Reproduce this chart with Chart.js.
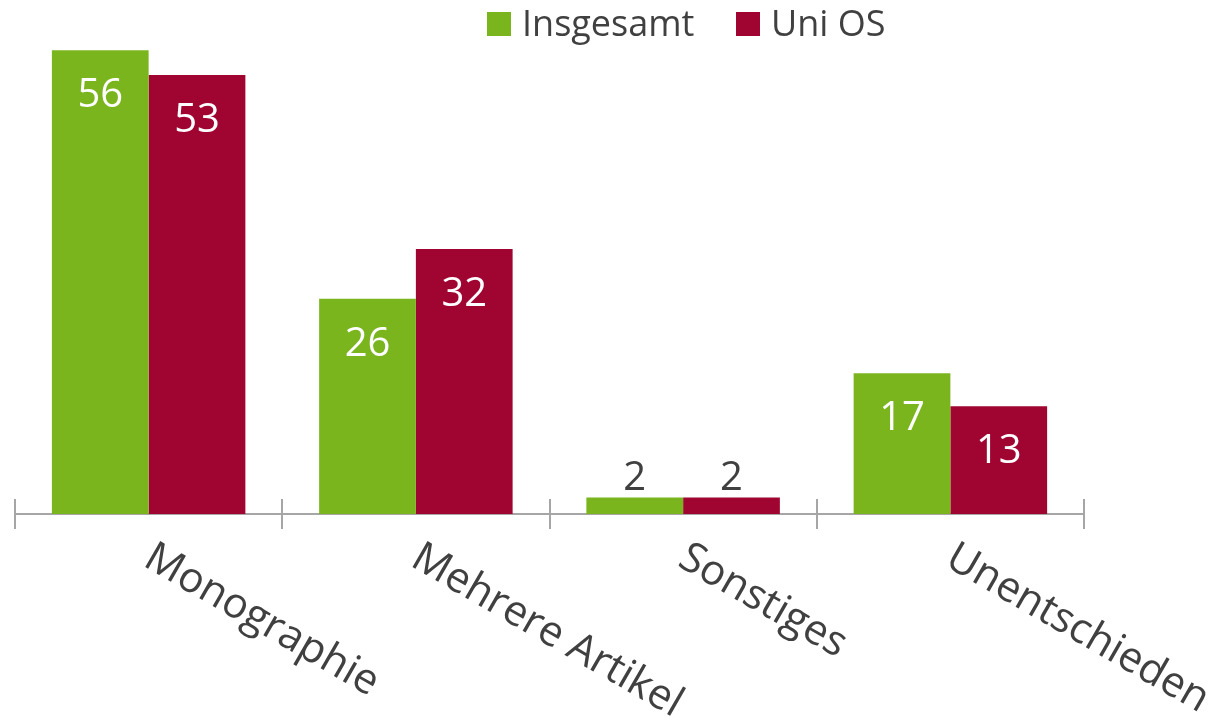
<!DOCTYPE html>
<html>
<head>
<meta charset="utf-8">
<script src="https://cdn.jsdelivr.net/npm/chart.js@4"></script>
<style>
    html, body { margin: 0; padding: 0; background: #fff; }
    #wrap { width: 1212px; height: 724px; position: relative; }
</style>
</head>
<body>
<div id="wrap"><canvas id="pubChart" width="1212" height="724"></canvas></div>
<script>
var categories = ['Monographie', 'Mehrere Artikel', 'Sonstiges', 'Unentschieden'];
var seriesNames = ['Insgesamt', 'Uni OS'];
var insgesamt = [56, 26, 2, 17];
var uniOS = [53, 32, 2, 13];

var GREEN = '#7AB51E';
var RED = '#A00431';
var TEXT = '#404040';
var AXIS = '#A6A6A6';
var FONT = '"Open Sans", sans-serif';

window.pubs = window.pubs || {};

window.pubs.chart = function() {
    var self = this;

    // ticks above + below the axis line, at the category boundaries
    var axisTicks = {
        id: 'axisTicks',
        afterDatasetsDraw: function(chart) {
            var ctx = chart.ctx;
            var x = chart.scales.x;
            var y0 = chart.chartArea.bottom;
            ctx.save();
            ctx.strokeStyle = AXIS;
            ctx.lineWidth = 2;
            for (var i = 0; i <= categories.length; i++) {
                var px;
                if (i === 0) px = chart.chartArea.left;
                else if (i === categories.length) px = chart.chartArea.right;
                else px = (x.getPixelForValue(i - 1) + x.getPixelForValue(i)) / 2;
                px = Math.round(px);
                ctx.beginPath();
                ctx.moveTo(px, y0 - 15);
                ctx.lineTo(px, y0 + 15);
                ctx.stroke();
            }
            ctx.restore();
        }
    };

    // rotated category names (clockwise, start at the category centre)
    var catLabels = {
        id: 'catLabels',
        afterDraw: function(chart) {
            var ctx = chart.ctx;
            var x = chart.scales.x;
            var y0 = chart.chartArea.bottom;
            ctx.save();
            ctx.fillStyle = TEXT;
            ctx.font = '42px ' + FONT;
            ctx.textAlign = 'left';
            ctx.textBaseline = 'alphabetic';
            categories.forEach(function(c, i) {
                var px = x.getPixelForValue(i);
                ctx.save();
                ctx.translate(px - 7, y0 + 51);
                ctx.rotate(30 * Math.PI / 180);
                ctx.fillText(c, 0, 0);
                ctx.restore();
            });
            ctx.restore();
        }
    };

    var valueLabels = {
        id: 'valueLabels',
        afterDatasetsDraw: function(chart) {
            var ctx = chart.ctx;
            ctx.save();
            ctx.font = '40px ' + FONT;
            ctx.textAlign = 'center';
            ctx.textBaseline = 'alphabetic';
            chart.data.datasets.forEach(function(ds, di) {
                var meta = chart.getDatasetMeta(di);
                meta.data.forEach(function(bar, i) {
                    var h = bar.base - bar.y;
                    if (h > 60) {
                        ctx.fillStyle = '#fff';
                        ctx.fillText(ds.data[i], bar.x, bar.y + 57);
                    } else {
                        ctx.fillStyle = TEXT;
                        ctx.fillText(ds.data[i], bar.x, bar.y - 7);
                    }
                });
            });
            ctx.restore();
        }
    };

    var legendBoxes = {
        id: 'legendBoxes',
        afterDraw: function(chart) {
            var ctx = chart.ctx;
            var boxX = [487, 736];
            ctx.save();
            ctx.font = '36px ' + FONT;
            ctx.textAlign = 'left';
            ctx.textBaseline = 'alphabetic';
            chart.data.datasets.forEach(function(ds, di) {
                ctx.fillStyle = ds.backgroundColor;
                ctx.fillRect(boxX[di], 12, 24, 24);
                ctx.fillStyle = TEXT;
                ctx.fillText(ds.label, boxX[di] + 35, 36);
            });
            ctx.restore();
        }
    };

    var init = function() {
        self.el = document.getElementById('pubChart');
        self.chart = new Chart(self.el, {
            type: 'bar',
            data: {
                labels: categories,
                datasets: [
                    { label: seriesNames[0], data: insgesamt, backgroundColor: GREEN },
                    { label: seriesNames[1], data: uniOS, backgroundColor: RED }
                ]
            },
            options: {
                responsive: false,
                animation: false,
                events: [],
                layout: { padding: { left: 15, right: 128, top: 17, bottom: 202 } },
                datasets: { bar: { categoryPercentage: 0.724, barPercentage: 1, borderWidth: 0 } },
                plugins: {
                    legend: { display: false },
                    tooltip: { enabled: false }
                },
                scales: {
                    x: {
                        ticks: { display: false },
                        grid: { display: false },
                        border: { display: true, color: AXIS, width: 2 }
                    },
                    y: {
                        display: false,
                        min: 0,
                        max: 60
                    }
                }
            },
            plugins: [axisTicks, valueLabels, catLabels, legendBoxes]
        });
    };

    return { init: init };
}();

window.pubs.chart.init();
</script>
</body>
</html>
